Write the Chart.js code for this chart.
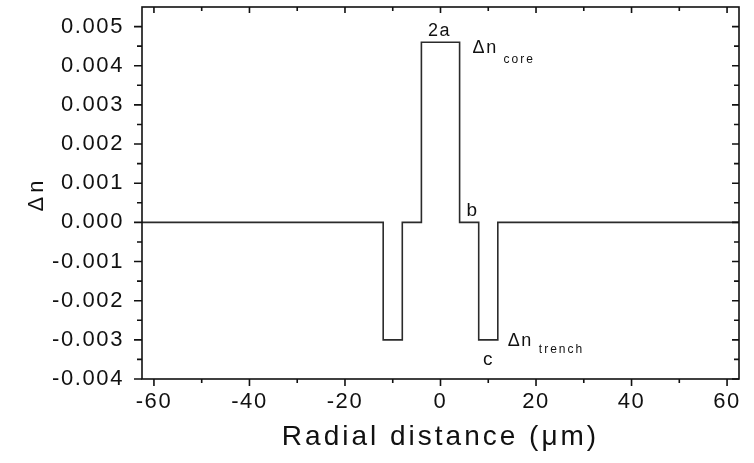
<!DOCTYPE html>
<html>
<head>
<meta charset="utf-8">
<script src="https://cdn.jsdelivr.net/npm/chart.js@4.4.1/dist/chart.umd.min.js"></script>
<style>
  body { margin: 0; background: #fff; }
  canvas { display: block; }
</style>
</head>
<body>
<canvas id="profile" width="754" height="463"></canvas>
<script>
// refractive index profile: core, inner cladding, trench, outer cladding
const radius = [-62.5, -12, -12, -8, -8, -4, -4, 4, 4, 8, 8, 12, 12, 62.5];
const deltaN = [0, 0, -0.003, -0.003, 0, 0, 0.0046, 0.0046, 0, 0, -0.003, -0.003, 0, 0];

const xTicks = [-60, -40, -20, 0, 20, 40, 60];
const xMinor = [-50, -30, -10, 10, 30, 50];
const yTicks = [-0.004, -0.003, -0.002, -0.001, 0, 0.001, 0.002, 0.003, 0.004, 0.005];
const yMinor = [-0.0035, -0.0025, -0.0015, -0.0005, 0.0005, 0.0015, 0.0025, 0.0035, 0.0045];

const xTitle = 'Radial distance (\u03bcm)';
const yTitle = '\u0394n';

const FONT = "'Liberation Sans', Arial, sans-serif";
const INK = '#111';

// axis frame, minor/major ticks on all four sides, titles and labels
const decor = {
  id: 'decor',
  beforeLayout(chart) { chart.ctx.letterSpacing = '1.6px'; },
  beforeDraw(chart) { chart.ctx.letterSpacing = '1.6px'; },
  afterDraw(chart) {
    const { ctx, chartArea: a, scales: { x, y } } = chart;
    ctx.save();
    ctx.strokeStyle = INK;
    ctx.lineWidth = 1.6;
    ctx.strokeRect(a.left, a.top, a.right - a.left, a.bottom - a.top);

    ctx.beginPath();
    const seg = (x0, y0, x1, y1) => { ctx.moveTo(x0, y0); ctx.lineTo(x1, y1); };
    xTicks.forEach(v => {
      const p = x.getPixelForValue(v);
      seg(p, a.bottom, p, a.bottom + 7);
      seg(p, a.top, p, a.top + 6);
    });
    xMinor.forEach(v => {
      const p = x.getPixelForValue(v);
      seg(p, a.bottom, p, a.bottom + 4);
      seg(p, a.top, p, a.top + 4);
    });
    yTicks.forEach(v => {
      const p = y.getPixelForValue(v);
      seg(a.left, p, a.left - 8, p);
      seg(a.right, p, a.right - 7, p);
    });
    yMinor.forEach(v => {
      const p = y.getPixelForValue(v);
      seg(a.left, p, a.left - 5, p);
      seg(a.right, p, a.right - 5, p);
    });
    ctx.stroke();

    ctx.fillStyle = INK;
    ctx.textBaseline = 'alphabetic';

    // x title
    ctx.font = '28px ' + FONT;
    ctx.letterSpacing = '3px';
    ctx.textAlign = 'center';
    ctx.fillText(xTitle, (a.left + a.right) / 2, 445);

    // y title
    ctx.save();
    ctx.translate(43, (a.top + a.bottom) / 2 + 1);
    ctx.rotate(-Math.PI / 2);
    ctx.textAlign = 'center';
    ctx.font = '22px ' + FONT;
    ctx.letterSpacing = '4px';
    ctx.fillText(yTitle, 0, 0);
    ctx.restore();

    // labels around the profile
    const px = v => x.getPixelForValue(v);
    const py = v => y.getPixelForValue(v);
    const core = deltaN[6], trench = deltaN[2];

    ctx.textAlign = 'center';
    ctx.font = '18px ' + FONT;
    ctx.letterSpacing = '1.5px';
    ctx.fillText('2a', px(0) - 1, py(core) - 6);

    ctx.textAlign = 'left';
    ctx.font = '19px ' + FONT;
    ctx.letterSpacing = '1px';
    ctx.fillText('b', px(4) + 7, py(0) - 6);
    ctx.textAlign = 'center';
    ctx.fillText('c', px(10), py(trench) + 25);

    ctx.textAlign = 'left';
    ctx.font = '18px ' + FONT;
    ctx.letterSpacing = '1.5px';
    ctx.fillText('\u0394n', px(4) + 13, py(core) + 11);
    ctx.fillText('\u0394n', px(12) + 10, py(trench) + 6);
    ctx.font = '12px ' + FONT;
    ctx.letterSpacing = '2px';
    ctx.fillText('core', px(4) + 44, py(core) + 21);
    ctx.fillText('trench', px(12) + 41, py(trench) + 13);

    ctx.restore();
  }
};

new Chart(document.getElementById('profile'), {
  type: 'scatter',
  data: {
    datasets: [{
      data: radius.map((r, i) => ({ x: r, y: deltaN[i] })),
      showLine: true,
      borderColor: '#2b2b2b',
      borderWidth: 1.6,
      pointRadius: 0,
      fill: false
    }]
  },
  options: {
    responsive: false,
    animation: false,
    layout: { padding: { top: 7, right: 15, left: 0, bottom: 0 } },
    plugins: { legend: { display: false }, tooltip: { enabled: false } },
    scales: {
      x: {
        type: 'linear',
        min: -62.5,
        max: 62.5,
        afterBuildTicks: s => { s.ticks = xTicks.map(v => ({ value: v })); },
        afterFit: s => { s.height = 84; s.paddingLeft = 0; s.paddingRight = 0; },
        grid: { display: false },
        border: { display: false },
        ticks: {
          autoSkip: false,
          maxRotation: 0,
          padding: 2,
          color: INK,
          font: { family: FONT, size: 22 }
        }
      },
      y: {
        min: -0.004,
        max: 0.0055,
        afterBuildTicks: s => { s.ticks = yTicks.map(v => ({ value: v })); },
        afterFit: s => { s.width = 142; s.paddingTop = 0; s.paddingBottom = 0; },
        grid: { display: false },
        border: { display: false },
        ticks: {
          autoSkip: false,
          padding: 10,
          color: INK,
          font: { family: FONT, size: 22 },
          callback: v => v.toFixed(3)
        }
      }
    }
  },
  plugins: [decor]
});
</script>
</body>
</html>
